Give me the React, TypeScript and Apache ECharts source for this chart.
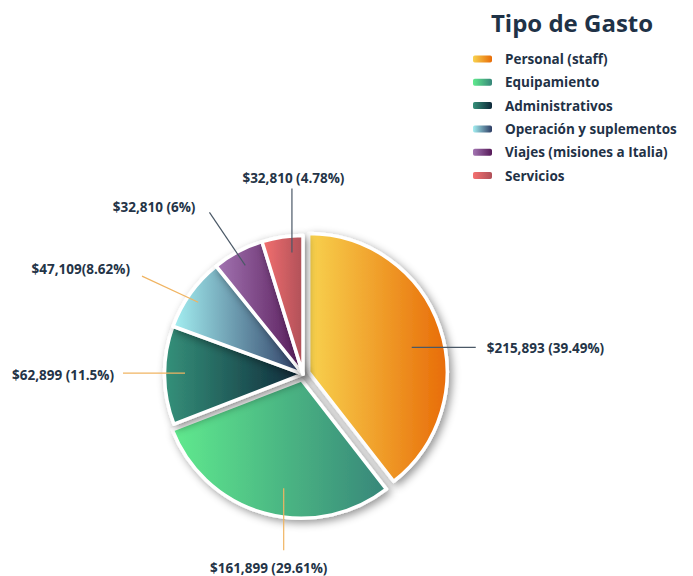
import React, { useEffect, useRef } from "react";
import * as echarts from "echarts";

// ---- data ----
const categories = [
  "Personal (staff)",
  "Equipamiento",
  "Administrativos",
  "Operación y suplementos",
  "Viajes (misiones a Italia)",
  "Servicios",
];
const shares = [39.49, 29.61, 11.5, 8.62, 6, 4.78];
const labelTexts = [
  "$215,893 (39.49%)",
  "$161,899 (29.61%)",
  "$62,899 (11.5%)",
  "$47,109(8.62%)",
  "$32,810 (6%)",
  "$32,810 (4.78%)",
];
const exploded = [true, true, false, false, false, false];

// ---- styles ----
const gradientStops = [
  ["#f8d24e", "#e86c08"],
  ["#60ea8e", "#378679"],
  ["#35917a", "#0e2839"],
  ["#a4f0f2", "#2e3c64"],
  ["#a375b2", "#561a58"],
  ["#f47070", "#b05058"],
];
const lineColors = ["#4a5866", "#f0b462", "#f0b462", "#f0b462", "#4a5866", "#4a5866"];
const lineStartRadius = [106, 110, 118, 127, 123, 122];
const lineStartShift = [5.4, -6.2, 1, -1.3, 0, 3.4];
const lineAngle = [0, 90, 180, 205, 236, 270];
const lineLength = [64, 62, 62, 62, 64, 64];
const labelPlace = [
  { dx: 11, dy: 1, align: "left", va: "middle" },
  { dx: -15, dy: 11, align: "center", va: "top" },
  { dx: -9, dy: 2, align: "right", va: "middle" },
  { dx: -12, dy: -7, align: "right", va: "middle" },
  { dx: -14, dy: -5, align: "right", va: "middle" },
  { dx: 1.5, dy: -4, align: "center", va: "bottom" },
];
const CENTER = [303, 374];
const RADIUS = 138.5;
const OFFSET = 6;
const TEXT = "#1f3247";
const FONT = "'Open Sans', 'Noto Sans', sans-serif";

function grad(i: number) {
  return new echarts.graphic.LinearGradient(0, 0, 1, 0, [
    { offset: 0, color: gradientStops[i][0] },
    { offset: 1, color: gradientStops[i][1] },
  ]);
}

export default function App() {
  const ref = useRef<HTMLDivElement>(null);
  useEffect(() => {
    if (!ref.current) return;
    const chart = echarts.init(ref.current, undefined, { renderer: "svg" });
    const sliceData = categories.map((name, i) => ({
      name,
      value: shares[i],
      selected: exploded[i],
      itemStyle: { color: grad(i) },
    }));
    const labelData = categories.map((name, i) => ({
      name,
      value: shares[i],
      labelLine: { lineStyle: { color: lineColors[i] } },
    }));
    chart.setOption({
      animation: false,
      backgroundColor: "#ffffff",
      title: {
        text: "Tipo de Gasto",
        left: 567,
        top: 5,
        textAlign: "center",
        textStyle: { fontFamily: FONT, fontWeight: 700, fontSize: 24, color: TEXT },
      },
      legend: {
        orient: "vertical",
        left: 468,
        top: 47,
        icon: "roundRect",
        itemWidth: 19,
        itemHeight: 7,
        itemGap: 9.3,
        selectedMode: false,
        itemStyle: { shadowBlur: 0, borderWidth: 0 },
        textStyle: { fontFamily: FONT, fontWeight: 700, fontSize: 13.5, color: TEXT, padding: [0, 0, 0, 8] },
        data: categories,
      },
      series: [
        {
          type: "pie",
          z: 2,
          center: CENTER,
          radius: RADIUS,
          startAngle: 90,
          clockwise: true,
          selectedMode: "multiple",
          selectedOffset: OFFSET,
          avoidLabelOverlap: false,
          emphasis: { disabled: true },
          silent: true,
          itemStyle: {
            borderColor: "#ffffff",
            borderWidth: 3.5,
            shadowBlur: 9,
            shadowOffsetX: 3,
            shadowOffsetY: 3,
            shadowColor: "rgba(0,0,0,0.42)",
          },
          select: { itemStyle: { borderColor: "#ffffff", borderWidth: 3.5 } },
          label: { show: false },
          labelLine: { show: false },
          data: sliceData,
        },
        {
          type: "pie",
          z: 4,
          center: CENTER,
          radius: RADIUS,
          startAngle: 90,
          clockwise: true,
          selectedMode: false,
          avoidLabelOverlap: false,
          emphasis: { disabled: true },
          silent: true,
          itemStyle: { color: "rgba(0,0,0,0)", borderWidth: 0, shadowBlur: 0 },
          label: {
            show: true,
            position: "outside",
            formatter: (p: any) => labelTexts[p.dataIndex],
            fontFamily: FONT,
            fontWeight: 700,
            fontSize: 13.5,
            color: "#243447",
          },
          labelLine: { show: true, length: 10, length2: 10, lineStyle: { width: 1.2 } },
          labelLayout: (p: any) => {
            const i = p.dataIndex;
            const pts = p.labelLinePoints;
            if (!pts || !pts[0]) return {};
            let ux = pts[0][0] - CENTER[0];
            let uy = pts[0][1] - CENTER[1];
            const d = Math.hypot(ux, uy) || 1;
            ux /= d;
            uy /= d;
            const ox = exploded[i] ? ux * OFFSET : 0;
            const oy = exploded[i] ? uy * OFFSET : 0;
            const sh = (lineStartShift[i] * Math.PI) / 180;
            const vx = ux * Math.cos(sh) - uy * Math.sin(sh);
            const vy = ux * Math.sin(sh) + uy * Math.cos(sh);
            const sx = CENTER[0] + ox + vx * lineStartRadius[i];
            const sy = CENTER[1] + oy + vy * lineStartRadius[i];
            const a = (lineAngle[i] * Math.PI) / 180;
            const ex = sx + Math.cos(a) * lineLength[i];
            const ey = sy + Math.sin(a) * lineLength[i];
            const pl = labelPlace[i];
            return {
              x: ex + pl.dx,
              y: ey + pl.dy,
              align: pl.align,
              verticalAlign: pl.va,
              labelLinePoints: [
                [sx, sy],
                [ex, ey],
              ],
            };
          },
          data: labelData,
        },
      ],
    });
    return () => chart.dispose();
  }, []);
  return (
    <div
      ref={ref}
      style={{ position: "fixed", left: 0, top: 0, width: 693, height: 576, background: "#fff" }}
    />
  );
}
